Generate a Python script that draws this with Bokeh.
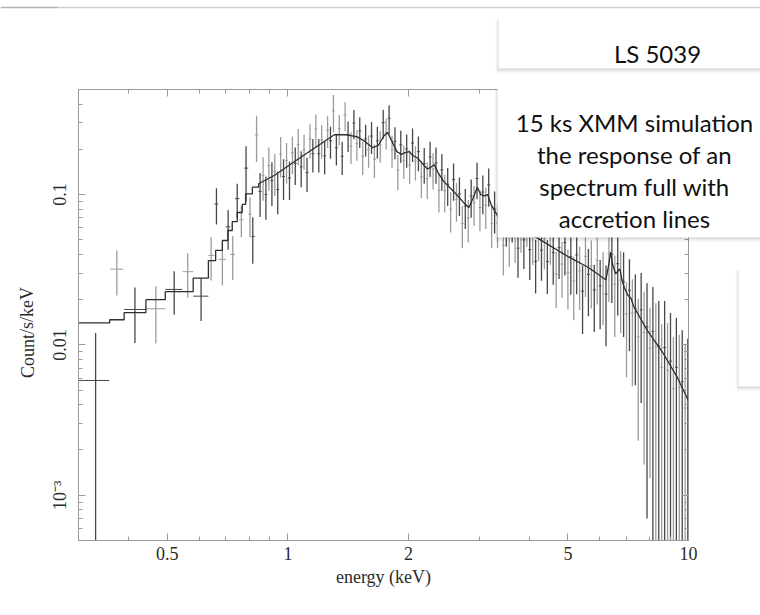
import math
import numpy as np
from bokeh.plotting import figure
from bokeh.models import LogAxis, FixedTicker, Range1d, GridBox
from bokeh.core.properties import value
from bokeh.embed import file_html
from bokeh.resources import INLINE

# ---------------- data ----------------
# wide low-energy bins (keV) : centre, bin edges, rate, 1-sigma error
low_e   = [0.331, 0.374, 0.415, 0.468, 0.520, 0.562, 0.607, 0.643, 0.663, 0.686,
           0.709, 0.728, 0.747, 0.765, 0.786, 0.804, 0.817, 0.835]
low_lo  = [0.301, 0.360, 0.390, 0.442, 0.494, 0.545, 0.580, 0.633, 0.655, 0.670,
           0.700, 0.718, 0.738, 0.756, 0.778, 0.796, 0.811, 0.826]
low_hi  = [0.358, 0.388, 0.442, 0.494, 0.545, 0.580, 0.633, 0.655, 0.670, 0.700,
           0.718, 0.738, 0.756, 0.775, 0.796, 0.811, 0.826, 0.844]
low_y   = [0.0058, 0.0319, 0.0172, 0.0174, 0.0234, 0.0307, 0.0211, 0.0394, 0.0867, 0.0371,
           0.0610, 0.0400, 0.0940, 0.0680, 0.150, 0.074, 0.0526, 0.250]
low_err = [0.0062, 0.0106, 0.0069, 0.0072, 0.0075, 0.0100, 0.0067, 0.0126, 0.0235, 0.0123,
           0.0180, 0.0130, 0.0240, 0.0160, 0.060, 0.022, 0.018, 0.085]

# dense channels above ~0.85 keV
dense_e = [0.852, 0.867, 0.881, 0.896, 0.912, 0.927, 0.943, 0.959, 0.975, 0.992,
           1.009, 1.026, 1.043, 1.061, 1.079, 1.097, 1.116, 1.135, 1.154, 1.174,
           1.194, 1.214, 1.235, 1.256, 1.277, 1.299, 1.321, 1.343, 1.366, 1.389,
           1.413, 1.437, 1.461, 1.486, 1.511, 1.537, 1.563, 1.590, 1.617, 1.644,
           1.672, 1.700, 1.729, 1.759, 1.789, 1.819, 1.850, 1.881, 1.913, 1.946,
           1.979, 2.013, 2.047, 2.081, 2.117, 2.153, 2.189, 2.227, 2.264, 2.303,
           2.342, 2.382, 2.422, 2.463, 2.505, 2.548, 2.591, 2.635, 2.680, 2.725,
           2.772, 2.819, 2.867, 2.915, 2.965, 3.015, 3.066, 3.118, 3.171, 3.225,
           3.280, 3.336, 3.392, 3.450, 3.509, 3.568, 3.629, 3.691, 3.753, 3.817,
           3.882, 3.948, 4.015, 4.083, 4.153, 4.223, 4.295, 4.368, 4.442, 4.518,
           4.595, 4.673, 4.752, 4.833, 4.915, 4.999, 5.084, 5.170, 5.258, 5.348,
           5.439, 5.531, 5.625, 5.721, 5.818, 5.917, 6.017, 6.120, 6.224, 6.329,
           6.437, 6.546, 6.658, 6.771, 6.886, 7.003, 7.122, 7.243, 7.366, 7.491,
           7.618, 7.748, 7.879, 8.013, 8.149, 8.288, 8.429, 8.572, 8.718, 8.866,
           9.017, 9.170, 9.326, 9.484, 9.646, 9.810, 9.960]
dense_y = [0.105, 0.134, 0.100, 0.156, 0.124, 0.142, 0.108, 0.186, 0.132, 0.169,
           0.129, 0.190, 0.161, 0.215, 0.153, 0.198, 0.140, 0.234, 0.187, 0.273,
           0.187, 0.231, 0.181, 0.268, 0.228, 0.360, 0.205, 0.275, 0.180, 0.338,
           0.249, 0.210, 0.299, 0.218, 0.265, 0.180, 0.235, 0.199, 0.245, 0.172,
           0.228, 0.214, 0.301, 0.259, 0.322, 0.199, 0.226, 0.145, 0.214, 0.169,
           0.201, 0.157, 0.220, 0.167, 0.193, 0.131, 0.161, 0.128, 0.178, 0.148,
           0.162, 0.107, 0.146, 0.106, 0.117, 0.080, 0.126, 0.093, 0.101, 0.064,
           0.084, 0.070, 0.098, 0.088, 0.128, 0.082, 0.104, 0.085, 0.116, 0.064,
           0.080, 0.065, 0.079, 0.046, 0.068, 0.052, 0.073, 0.055, 0.044, 0.063,
           0.050, 0.069, 0.043, 0.053, 0.036, 0.057, 0.0427, 0.0508, 0.0358, 0.0542,
           0.0411, 0.0296, 0.0444, 0.0345, 0.0479, 0.0302, 0.0386, 0.0266, 0.0397, 0.0311,
           0.0228, 0.0388, 0.0295, 0.0335, 0.0232, 0.0366, 0.0247, 0.0275, 0.0218, 0.0403,
           0.0400, 0.0253, 0.0347, 0.0270, 0.0263, 0.0161, 0.0231, 0.0163, 0.0174, 0.0113,
           0.0171, 0.0121, 0.0132, 0.0095, 0.0123, 0.0097, 0.0098, 0.0071, 0.0096, 0.0068,
           0.0078, 0.0051, 0.0071, 0.0052, 0.0057, 0.0038, 0.0044]
dense_err = [0.034, 0.043, 0.032, 0.050, 0.040, 0.044, 0.034, 0.056, 0.040, 0.051,
             0.037, 0.053, 0.045, 0.058, 0.041, 0.052, 0.036, 0.060, 0.047, 0.068,
             0.047, 0.058, 0.045, 0.064, 0.055, 0.100, 0.049, 0.063, 0.045, 0.074,
             0.057, 0.050, 0.066, 0.050, 0.061, 0.045, 0.056, 0.048, 0.059, 0.043,
             0.055, 0.051, 0.066, 0.060, 0.071, 0.048, 0.054, 0.038, 0.052, 0.042,
             0.050, 0.040, 0.055, 0.043, 0.050, 0.036, 0.043, 0.035, 0.047, 0.040,
             0.044, 0.031, 0.040, 0.030, 0.033, 0.024, 0.035, 0.027, 0.029, 0.020,
             0.025, 0.022, 0.028, 0.026, 0.035, 0.025, 0.030, 0.026, 0.033, 0.020,
             0.025, 0.021, 0.026, 0.017, 0.023, 0.019, 0.025, 0.020, 0.016, 0.022,
             0.018, 0.024, 0.016, 0.019, 0.014, 0.021, 0.016, 0.019, 0.014, 0.020,
             0.016, 0.012, 0.017, 0.014, 0.019, 0.013, 0.017, 0.012, 0.018, 0.014,
             0.011, 0.018, 0.014, 0.016, 0.011, 0.018, 0.012, 0.014, 0.012, 0.021,
             0.021, 0.014, 0.019, 0.015, 0.015, 0.010, 0.014, 0.011, 0.012, 0.0090,
             0.013, 0.0105, 0.0125, 0.0082, 0.0120, 0.0092, 0.0098, 0.0066, 0.0100, 0.0072,
             0.0085, 0.0062, 0.0080, 0.0065, 0.0068, 0.0062, 0.0066]

# folded model: binned steps at low energy, then fine-binned curve
step_edges = [0.300, 0.359, 0.390, 0.442, 0.494, 0.580, 0.633, 0.660, 0.686, 0.708,
              0.726, 0.747, 0.769, 0.784, 0.815, 0.845]
step_vals  = [0.0140, 0.0147, 0.0164, 0.0200, 0.0226, 0.0278, 0.0364, 0.0425, 0.0495,
              0.0577, 0.0660, 0.0760, 0.0860, 0.101, 0.112]
model_e = [0.845, 0.924, 1.077, 1.305, 1.40, 1.49, 1.56, 1.627, 1.68, 1.735, 1.773,
           1.82, 1.87, 1.92, 1.96, 2.007, 2.05, 2.105, 2.17, 2.23, 2.28, 2.32, 2.37,
           2.45, 2.60, 2.75, 2.83, 2.90, 2.97, 3.03, 3.09, 3.15, 3.22, 3.36, 3.60,
           4.19, 5.00, 5.60, 6.22, 6.32, 6.39, 6.47, 6.58, 6.66, 6.74, 6.82, 6.91,
           7.05, 7.18, 7.30, 7.89, 8.60, 9.37, 9.98]
model_f = [0.118, 0.134, 0.177, 0.250, 0.250, 0.242, 0.225, 0.205, 0.212, 0.245, 0.259,
           0.225, 0.193, 0.185, 0.190, 0.193, 0.182, 0.175, 0.160, 0.148, 0.153, 0.158, 0.140,
           0.122, 0.104, 0.088, 0.082, 0.095, 0.112, 0.100, 0.098, 0.100, 0.085, 0.070, 0.062,
           0.0515, 0.0387, 0.0330, 0.0271, 0.0340, 0.0414, 0.0340, 0.0297, 0.0310, 0.0320,
           0.0270, 0.0242, 0.0215, 0.0205, 0.0180, 0.0125, 0.0090, 0.0061, 0.0043]

x_major = [0.5, 1, 2, 5, 10]
x_labels = ["0.5", "1", "2", "5", "10"]
y_major = [0.001, 0.01, 0.1]
y_labels = ["10\u207b\u00b3", "0.01", "0.1"]
x_title = "energy (keV)"
y_title = "Count/s/keV"

title_text = "LS 5039"
note_lines = ["15 ks XMM simulation", "the response of an",
              "spectrum full with", "accretion lines"]

# ---------------- main figure ----------------
W, H = 760, 615
FL, FR, FT, FB = 78, 688, 89, 540

p = figure(width=W, height=H, x_axis_type="log", y_axis_type="log",
           x_range=Range1d(0.3, 10), y_range=Range1d(5e-4, 0.5),
           output_backend="svg", toolbar_location=None,
           min_border_left=FL, min_border_right=W - FR,
           min_border_top=FT, min_border_bottom=H - FB,
           background_fill_color="white", border_fill_color="white")
p.outline_line_color = "#9a9a9a"
p.xgrid.visible = False
p.ygrid.visible = False

x_minor = [0.3, 0.4, 0.6, 0.7, 0.8, 0.9, 3, 4, 6, 7, 8, 9]
y_minor = [m * 10.0 ** k for k in (-4, -3, -2, -1) for m in range(2, 10)
           if 5e-4 <= m * 10.0 ** k <= 0.5]

AX = "#9a9a9a"
SERIF = "Liberation Serif"
INK = "#2a2a2a"


def style_axis(ax, major, minor, labels, show):
    ax.ticker = FixedTicker(ticks=major, minor_ticks=minor)
    ax.axis_line_color = AX
    ax.major_tick_line_color = AX
    ax.minor_tick_line_color = AX
    ax.major_tick_in = 7
    ax.major_tick_out = 0
    ax.minor_tick_in = 4
    ax.minor_tick_out = 0
    if show:
        ax.major_label_overrides = {float(v): t for v, t in zip(major, labels)}
        ax.major_label_text_font = SERIF
        ax.major_label_text_font_size = "18px"
        ax.major_label_text_color = INK
    else:
        ax.major_label_text_font_size = "0px"
        ax.major_label_text_alpha = 0


style_axis(p.xaxis[0], x_major, x_minor, x_labels, True)
style_axis(p.yaxis[0], y_major, y_minor, y_labels, True)
p.xaxis[0].major_label_standoff = 6
p.yaxis[0].major_label_standoff = 8
p.yaxis[0].major_label_orientation = "vertical"

p.xaxis[0].axis_label = x_title
p.xaxis[0].axis_label_text_font = SERIF
p.xaxis[0].axis_label_text_font_size = "18px"
p.xaxis[0].axis_label_text_font_style = "normal"
p.xaxis[0].axis_label_text_color = INK
p.xaxis[0].axis_label_standoff = 4

top_ax = LogAxis()
right_ax = LogAxis()
style_axis(top_ax, x_major, x_minor, x_labels, False)
style_axis(right_ax, y_major, y_minor, y_labels, False)
p.add_layout(top_ax, "above")
p.add_layout(right_ax, "right")

# ---------------- data error bars ----------------
DARK, LIGHT = "#474747", "#9c9c9c"


def draw_points(E, y, err, lo, hi):
    y0 = [max(v - e, 1e-7) for v, e in zip(y, err)]
    y1 = [v + e for v, e in zip(y, err)]
    cols = [DARK if i % 2 == 0 else LIGHT for i in range(len(E))]
    order = sorted(range(len(E)), key=lambda i: cols[i] == DARK)
    pick = lambda arr: [arr[i] for i in order]
    p.segment(x0=pick(E), y0=pick(y0), x1=pick(E), y1=pick(y1),
              line_color=pick(cols), line_width=1.3)
    p.segment(x0=pick(lo), y0=pick(y), x1=pick(hi), y1=pick(y),
              line_color=pick(cols), line_width=1)


draw_points(low_e, low_y, low_err, low_lo, low_hi)

de = np.array(dense_e)
mids = np.sqrt(de[1:] * de[:-1])
d_lo = list(np.concatenate([[de[0] ** 2 / mids[0]], mids]))
d_hi = list(np.concatenate([mids, [de[-1] ** 2 / mids[-1]]]))
draw_points(dense_e, dense_y, dense_err, d_lo, d_hi)

# ---------------- model ----------------
mx, my = [], []
for i, v in enumerate(step_vals):
    mx += [step_edges[i], step_edges[i + 1]]
    my += [v, v]
mx += model_e
my += model_f
p.line(mx, my, line_color="#2e2e2e", line_width=1.3)

# ---------------- transparent overlay figure (canvas pixel coordinates) ----------------
ov = figure(width=W, height=H, x_range=Range1d(0, W), y_range=Range1d(H, 0),
            x_axis_location=None, y_axis_location=None,
            output_backend="svg", toolbar_location=None,
            min_border_left=0, min_border_right=0, min_border_top=0, min_border_bottom=0,
            background_fill_color=None, border_fill_color=None)
ov.outline_line_color = None
ov.grid.visible = False

# y-axis title, placed like the original (slightly below the frame centre)
ov.text(x=[27], y=[332], text=[y_title], angle=[math.pi / 2],
        text_font=value(SERIF), text_font_size=value("18px"),
        text_align="center", text_baseline="middle", text_color=INK)

# thin slide rule along the very top
ov.segment(x0=[0, 58], y0=[7, 7], x1=[58, W], y1=[7, 7],
           line_color=["#b4b4b4", "#d0d0d0"], line_width=1.5)

cards = [(498, 18, 830, 68), (497, 87, 830, 237), (738, 268, 900, 386)]
for dx, dy, a in ((-3, 5, 0.025), (-2, 3.5, 0.04), (-1, 2, 0.05), (-0.5, 1, 0.05)):
    ov.quad(left=[c[0] + dx for c in cards], right=[c[2] for c in cards],
            top=[c[1] + dy / 2 for c in cards], bottom=[c[3] + dy for c in cards],
            fill_color="black", fill_alpha=a, line_color=None)
ov.quad(left=[c[0] for c in cards], right=[c[2] for c in cards],
        top=[c[1] for c in cards], bottom=[c[3] for c in cards],
        fill_color="white", line_color=None)

ov.text(x=[657] + [634] * 4, y=[53, 122, 154, 186, 218],
        text=[title_text] + note_lines,
        text_font=value("Lato"), text_font_size=value("24px"),
        text_align="center", text_baseline="alphabetic", text_color="#111111")

# the overlay spans a 3x3 grid while the chart sits in the middle cell, so no
# frame edges are shared (no border alignment) and both start at the same corner
layout = GridBox(children=[(p, 1, 1), (ov, 0, 0, 3, 3)])

open("out.html", "w").write(file_html(layout, INLINE))
